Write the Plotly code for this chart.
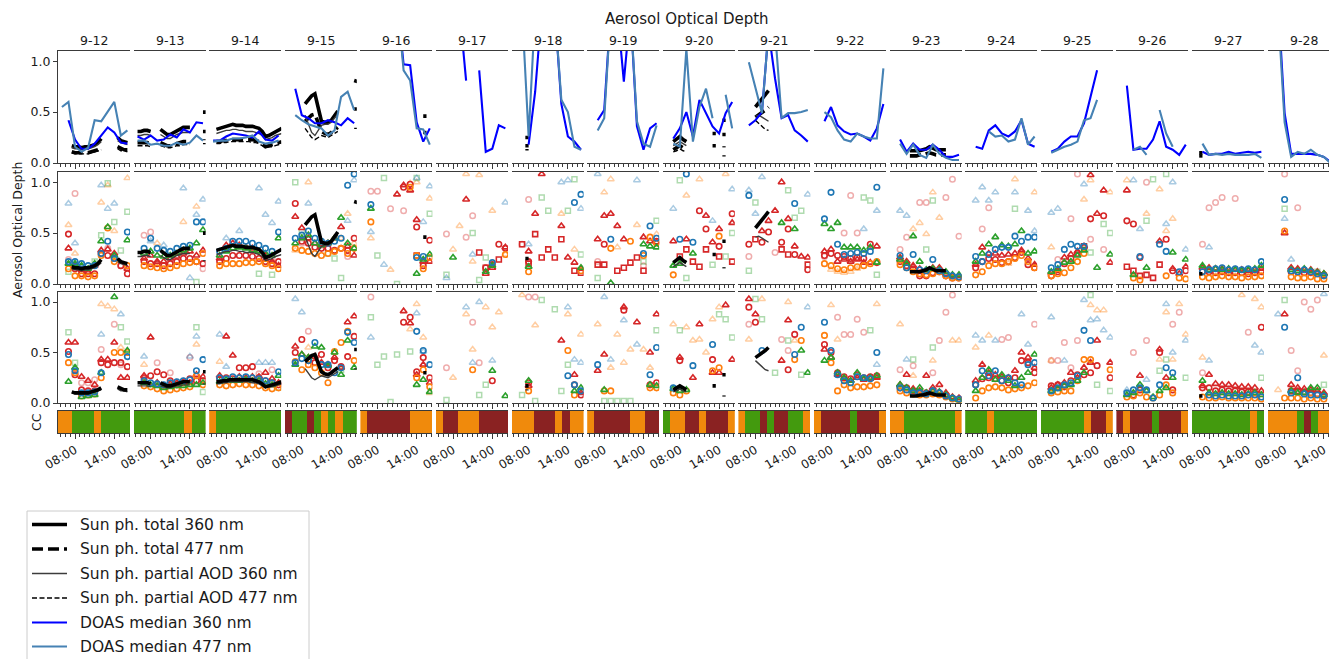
import plotly.graph_objects as go

W, H = 1329, 659
FONT = "DejaVu Sans"
TXT = "#1a1a1a"
SPINE = "#3a3a3a"

DAYS = ["9-12", "9-13", "9-14", "9-15", "9-16", "9-17", "9-18", "9-19", "9-20",
        "9-21", "9-22", "9-23", "9-24", "9-25", "9-26", "9-27", "9-28"]
DOAS_HOURS = [6, 7, 8, 9, 10, 11, 12, 13, 14, 15, 16]
SCAT_HOURS = [7, 8, 9, 10, 11, 12, 13, 14, 15, 16]
TICK_HOURS = [8, 14]
TICK_TEXT = ["08:00", "14:00"]
Y_TICKS = [0.0, 0.5, 1.0]
Y_TICK_TEXT = ["0.0", "0.5", "1.0"]

# ---------------- DOAS medians (row 1), hours 6..16 ----------------
DOAS_360 = [
    "- 0.42 0.23 0.14 0.14 0.19 0.27 0.35 0.30 0.20 0.19",
    "0.26 0.23 0.27 0.22 0.23 0.28 0.25 0.33 0.30 0.40 0.39",
    "0.22 0.22 0.26 0.29 0.28 0.27 0.25 0.31 0.23 0.22 0.27",
    "- 0.73 0.47 0.44 0.39 0.39 0.42 0.40 0.37 0.44 0.39",
    "- - - - - 1.60 0.97 0.96 0.40 0.21 0.34",
    "- - - 1.50 0.81 - 0.91 0.11 0.14 0.37 0.34",
    "- - 0.18 0.70 1.50 1.50 1.50 0.58 0.26 0.21 0.13",
    "- 0.42 0.52 1.50 1.50 0.80 1.50 0.36 0.13 0.34 0.39",
    "- 0.24 0.34 0.50 0.26 0.62 0.49 0.36 0.29 0.49 0.60",
    "- 0.37 0.42 0.50 1.30 0.83 0.44 0.47 0.32 0.27 0.21",
    "- 0.41 0.55 0.37 0.31 0.28 0.29 0.26 0.22 0.34 0.58",
    "- 0.23 0.11 0.19 0.13 0.13 0.18 0.13 0.06 0.06 0.08",
    "- 0.16 0.14 0.32 0.37 0.29 0.26 0.31 0.42 0.19 0.16",
    "- 0.11 0.14 0.21 0.26 0.26 0.39 0.65 0.91 - -",
    "- 0.76 0.13 0.14 0.14 0.23 0.41 0.16 0.13 0.08 0.18",
    "- 0.11 0.08 0.09 0.09 0.11 0.09 0.10 0.11 0.10 0.11",
    "- 1.60 0.49 0.09 0.09 0.09 0.09 0.08 0.06 0.01 -",
]
DOAS_477 = [
    "0.55 0.60 0.16 0.11 0.15 0.42 0.41 0.50 0.60 0.27 0.32",
    "0.22 0.22 0.18 0.19 0.17 0.17 0.20 0.18 0.20 0.27 0.22",
    "0.21 0.22 0.22 0.24 0.24 0.25 0.27 0.21 0.19 0.20 0.22",
    "- 0.47 0.42 0.38 0.36 0.34 0.27 0.32 0.65 0.70 0.52",
    "- - - - - 1.60 0.91 0.81 0.34 0.33 0.18",
    "",
    "- 1.50 0.26 1.50 1.50 1.50 1.50 0.62 0.50 0.16 0.13",
    "- 0.32 0.44 1.50 1.50 1.50 1.50 0.41 0.19 0.16 0.37",
    "- 0.19 0.16 1.12 0.21 0.55 0.73 0.44 - 0.67 0.34",
    "- 0.99 0.73 0.49 1.30 1.30 0.44 0.49 0.49 0.50 0.52",
    "- 0.50 0.45 0.32 0.23 0.21 0.29 0.26 0.24 0.24 0.93",
    "- 0.19 0.09 0.18 0.08 0.05 0.18 0.09 0.05 0.03 0.03",
    "- - - 0.31 0.26 0.27 0.21 0.23 0.44 0.18 0.26",
    "- 0.10 0.13 0.16 0.18 0.21 0.42 0.44 0.62 - -",
    "- - 0.13 0.16 0.08 - 0.52 0.29 0.16 - -",
    "- 0.19 0.08 0.09 0.08 0.09 0.08 0.08 0.08 0.09 0.05",
    "- 1.50 0.40 0.06 0.11 0.09 0.13 0.08 0.06 0.00 -",
]

# ---------------- Sun photometer (hour:value pairs) ----------------
SUN_TOT_360 = [
    "7.5:0.17 8:0.16 8.5:0.16 9:0.15 9.5:0.16 10:0.16 10.5:0.17 11:0.18 11.5:0.20 12:0.24 14.5:0.25 15:0.22 15.5:0.21 16:0.20",
    "6:0.31 6.5:0.31 7:0.32 7.5:0.32 8:0.31 9.5:0.33 10:0.30 10.5:0.28 11:0.28 11.5:0.30 12:0.32 12.5:0.34 13:0.35 13.5:0.35 14:0.35 16:0.50 16.5:0.50",
    "6.5:0.33 7:0.34 7.5:0.35 8:0.36 8.5:0.37 9:0.38 9.5:0.37 10:0.37 10.5:0.37 11:0.36 11.5:0.36 12:0.36 12.5:0.35 13:0.34 13.5:0.31 14:0.26 14.5:0.27 15:0.29 15.5:0.31 16:0.33 16.5:0.34",
    "8.5:0.58 9:0.62 9.5:0.66 10:0.68 10.5:0.55 11:0.41 11.5:0.40 12:0.40 12.5:0.42 13:0.47 13.5:0.51 16:0.81 16.5:0.80",
    "15:0.46 15.5:0.46",
    "",
    "7.5:0.25 8:0.25",
    "",
    "7:0.21 7.5:0.24 8:0.26 8.5:0.23 9:0.21 13:0.29 13.5:0.29 14.5:0.42 15:0.42",
    "8:0.55 8.5:0.59 9:0.63 9.5:0.67 10:0.71",
    "",
    "8.5:0.12 9:0.12 9.5:0.12 10:0.12 10.5:0.13 11:0.14 11.5:0.16 12:0.14 12.5:0.13 13:0.13 13.5:0.13 14:0.13",
    "", "", "",
    "6.5:0.10 7:0.10",
    "",
]
SUN_TOT_477 = [
    "7.5:0.11 8:0.10 8.5:0.10 9:0.10 9.5:0.10 10:0.10 10.5:0.11 11:0.12 11.5:0.13 12:0.15 14.5:0.16 15:0.14 15.5:0.13 16:0.13",
    "6:0.20 6.5:0.20 7:0.20 7.5:0.20 8:0.19 9.5:0.20 10:0.18 10.5:0.17 11:0.17 11.5:0.18 12:0.19 12.5:0.20 13:0.21 13.5:0.21 14:0.21 16:0.31 16.5:0.31",
    "6.5:0.21 7:0.21 7.5:0.22 8:0.22 8.5:0.23 9:0.23 9.5:0.23 10:0.23 10.5:0.23 11:0.23 11.5:0.23 12:0.23 12.5:0.22 13:0.21 13.5:0.19 14:0.16 14.5:0.17 15:0.18 15.5:0.19 16:0.20 16.5:0.21",
    "8.5:0.41 9:0.44 9.5:0.47 10:0.48 10.5:0.40 11:0.31 11.5:0.29 12:0.28 12.5:0.30 13:0.33 13.5:0.35 16:0.53 16.5:0.53",
    "15:0.30 15.5:0.30",
    "",
    "7.5:0.17 8:0.17",
    "",
    "7:0.13 7.5:0.15 8:0.17 8.5:0.15 9:0.13 13:0.17 13.5:0.17 14.5:0.28 15:0.28",
    "8:0.45 8.5:0.47 9:0.50 9.5:0.52 10:0.55",
    "",
    "8.5:0.07 9:0.07 9.5:0.07 10:0.08 10.5:0.08 11:0.09 11.5:0.10 12:0.09 12.5:0.08 13:0.08 13.5:0.08 14:0.08",
    "", "", "",
    "6.5:0.07 7:0.07",
    "",
]
SUN_PAR_360 = [
    "7.5:0.15 8:0.14 8.5:0.14 9:0.13 9.5:0.14 10:0.14 10.5:0.15 11:0.16 11.5:0.18 12:0.21 14.5:0.22 15:0.20 15.5:0.19 16:0.18",
    "6:0.27 6.5:0.27 7:0.28 7.5:0.28 8:0.27 9.5:0.28 10:0.26 10.5:0.24 11:0.24 11.5:0.26 12:0.28 12.5:0.29 13:0.30 13.5:0.30 14:0.30 16:0.23 16.5:0.23",
    "6.5:0.29 7:0.30 7.5:0.31 8:0.32 8.5:0.32 9:0.33 9.5:0.33 10:0.32 10.5:0.32 11:0.31 11.5:0.31 12:0.31 12.5:0.30 13:0.29 13.5:0.27 14:0.23 14.5:0.24 15:0.25 15.5:0.27 16:0.28 16.5:0.29",
    "8.5:0.47 9:0.38 9.5:0.30 10:0.27 10.5:0.32 11:0.37 11.5:0.38 12:0.38 12.5:0.40 13:0.44 13.5:0.48",
    "", "", "", "",
    "7:0.17 7.5:0.19 8:0.21 8.5:0.19 9:0.17 14.5:0.16 15:0.16",
    "8:0.46 8.5:0.47 9:0.45 9.5:0.43 10:0.41",
    "", "", "", "", "", "", "",
]
SUN_PAR_477 = [
    "7.5:0.10 8:0.09 8.5:0.09 9:0.09 9.5:0.09 10:0.09 10.5:0.10 11:0.11 11.5:0.12 12:0.13 14.5:0.14 15:0.12 15.5:0.12 16:0.11",
    "6:0.17 6.5:0.17 7:0.17 7.5:0.17 8:0.16 9.5:0.17 10:0.16 10.5:0.15 11:0.15 11.5:0.16 12:0.17 12.5:0.17 13:0.18 13.5:0.18 14:0.18 16:0.19 16.5:0.19",
    "6.5:0.19 7:0.19 7.5:0.20 8:0.20 8.5:0.21 9:0.21 9.5:0.21 10:0.21 10.5:0.21 11:0.21 11.5:0.21 12:0.20 12.5:0.20 13:0.19 13.5:0.17 14:0.15 14.5:0.16 15:0.16 15.5:0.17 16:0.18 16.5:0.19",
    "8.5:0.34 9:0.29 9.5:0.25 10:0.23 10.5:0.25 11:0.27 11.5:0.26 12:0.25 12.5:0.27 13:0.29 13.5:0.31 16:0.34 16.5:0.34",
    "", "",
    "7.5:0.13 8:0.13",
    "",
    "7:0.11 7.5:0.12 8:0.14 8.5:0.12 9:0.11 14.5:0.07 15:0.07",
    "8:0.42 8.5:0.39 9:0.35 9.5:0.33 10:0.32",
    "", "", "", "", "", "", "",
]

# ---------------- Row 2 scatter (360 nm), hours 7..16 ----------------
R2_RED_TRI = [
    "0.35 0.18 0.14 0.12 0.18 0.33 0.34 0.30 - 0.15",
    "0.25 0.28 0.22 0.22 0.25 0.27 0.30 0.32 0.28 0.33",
    "0.25 0.38 0.40 0.38 0.36 0.35 0.32 0.28 0.22 0.18",
    "0.66 0.55 0.45 0.40 0.38 0.40 0.45 0.56 0.37 0.28",
    "- - - - 0.88 0.97 0.92 0.63 0.22 0.22",
    "- - - 0.83 - - 0.10 0.16 - 0.36",
    "- 0.32 0.69 1.08 - - 0.57 0.26 0.21 0.15",
    "0.44 0.67 0.69 0.57 0.44 - - 0.46 0.42 0.41",
    "0.42 - 0.44 - - 0.67 0.41 0.54 - 0.60",
    "- - 0.52 0.62 0.72 1.00 0.64 0.37 0.27 0.26",
    "0.32 0.34 0.22 0.24 0.22 0.24 0.21 0.21 0.37 -",
    "0.26 0.22 0.18 0.15 0.12 0.16 0.16 0.10 0.08 0.08",
    "0.19 0.36 0.30 0.30 0.28 0.29 0.30 0.33 0.25 0.19",
    "0.11 0.13 0.26 0.29 0.32 0.37 1.07 0.69 0.92 0.21",
    "0.92 - - - - 0.42 - 0.15 0.10 0.17",
    "0.16 0.16 0.15 0.15 0.14 0.14 0.14 0.13 0.14 0.15",
    "- 0.50 0.16 0.15 0.14 0.14 0.12 0.10 - -",
]
R2_RED_CIRC = [
    "0.49 0.15 0.10 0.10 0.10 0.30 0.28 0.25 0.18 0.10",
    "0.22 0.20 0.20 0.18 0.20 0.22 0.25 0.25 0.22 0.20",
    "0.22 0.25 0.28 0.28 0.28 0.27 0.25 0.22 0.20 0.22",
    "0.79 0.42 0.40 0.36 0.35 0.35 0.33 0.35 0.33 0.45",
    "- - - - - 0.95 0.98 0.56 0.18 0.43",
    "- - - - - - 0.16 0.19 0.39 0.35",
    "- 0.22 - - - - - - - -",
    "- 0.39 - - - - - - - 0.42",
    "- - - - 0.72 0.54 - 0.37 - 0.69",
    "0.39 - 0.41 0.51 - 0.41 0.54 0.29 - 0.14",
    "0.28 0.30 0.28 0.27 0.25 0.26 0.25 0.39 0.21 -",
    "0.22 0.18 0.15 0.08 0.08 0.11 0.12 0.08 0.06 0.06",
    "0.16 0.22 0.25 0.24 0.21 0.22 0.26 0.31 0.19 0.16",
    "0.08 0.12 0.20 0.25 0.30 0.36 0.64 - 0.67 -",
    "0.62 0.59 0.26 - - - 0.44 0.13 - 0.13",
    "0.12 0.12 0.11 0.12 0.11 0.11 0.11 0.10 0.11 0.12",
    "- - 0.12 0.12 0.11 0.11 0.10 0.09 - -",
]
R2_RED_SQ = [
    "", "", "", "",
    "- - - - - - - 0.28 - -",
    "- - - - - 0.31 0.16 - 0.24 -",
    "0.39 0.20 0.49 0.26 0.34 0.26 0.44 - 0.13 0.11",
    "0.19 0.19 - 0.13 0.16 0.21 0.26 0.13 - -",
    "- 0.27 0.34 0.22 0.17 0.34 - 0.27 - 0.22",
    "- 0.44 - - - 0.34 0.29 - - 0.19",
    "", "", "",
    "- - - - - 0.37 - - - -",
    "0.17 0.13 0.08 0.09 0.06 0.19 - - - -",
    "", "",
]
R2_ORANGE = [
    "0.15 0.08 0.08 0.07 0.08 0.28 0.55 0.22 - 0.18",
    "0.18 0.17 0.16 0.15 0.16 0.18 0.20 0.21 0.22 0.30",
    "0.18 0.20 0.20 0.20 0.21 0.21 0.22 0.20 0.18 0.15",
    "0.35 0.33 0.32 0.30 0.28 0.30 0.32 0.35 0.30 0.35",
    "0.61 - - - - - 0.95 0.28 0.15 0.26",
    "- - - - - - - - - 0.29",
    "- 0.12 - - - - - - - 0.13",
    "- - 0.35 - - 0.42 - 0.28 0.46 0.40",
    "0.09 - - - - - - 0.47 - -",
    "",
    "0.20 0.18 0.15 0.14 0.16 0.17 0.18 0.20 0.22 -",
    "0.19 0.16 0.12 0.10 0.09 0.10 0.12 0.08 0.06 0.06",
    "0.09 0.12 0.18 0.20 0.20 0.22 0.25 0.28 0.22 0.16",
    "0.08 0.10 0.11 0.16 0.22 0.30 - - - -",
    "- 0.06 0.04 - - - 0.08 - 0.06 0.05",
    "0.07 0.06 0.07 0.08 0.07 0.07 0.06 0.07 0.07 0.08",
    "- 0.52 0.07 0.06 0.06 0.07 0.05 0.05 - -",
]
R2_GREEN = [
    "0.20 0.20 0.18 0.15 0.20 0.42 0.56 0.28 - 0.43",
    "0.30 0.32 0.28 0.27 0.28 0.30 0.33 0.35 0.40 0.53",
    "0.28 0.32 0.35 0.36 0.35 0.33 0.32 0.30 0.28 0.45",
    "0.40 0.45 0.48 0.40 0.38 0.40 0.45 0.65 0.40 0.35",
    "0.74 - - - - - - 0.10 0.24 0.29",
    "- 0.26 - - - - 0.12 0.18 - -",
    "- 0.17 - - - - - - - 0.16",
    "- - 0.01 - - - - 0.39 0.37 0.36",
    "0.18 0.20 - 0.30 - - - - - -",
    "- - - - - 0.60 - 0.54 - -",
    "0.59 0.54 0.60 0.36 0.36 0.36 0.33 0.36 0.21 -",
    "0.24 0.20 0.47 0.22 0.14 0.15 0.14 0.12 0.09 0.09",
    "0.22 0.30 0.39 0.46 0.38 0.37 0.39 0.52 0.30 0.32",
    "0.12 0.15 0.21 0.22 0.28 0.33 - 0.16 - 0.29",
    "- 0.09 - 0.16 - - - 0.31 - 0.24",
    "0.18 0.14 0.15 0.14 0.15 0.14 0.13 0.14 0.15 0.18",
    "- - 0.14 0.13 0.15 0.13 0.11 0.10 - -",
]
R2_BLUE = [
    "0.22 0.22 0.20 0.18 0.18 0.30 0.42 0.25 - 0.51",
    "0.35 0.45 0.35 0.33 0.32 0.35 0.37 0.38 0.61 0.61",
    "0.32 0.35 0.42 0.42 0.42 0.40 0.38 0.35 0.32 0.51",
    "0.45 0.48 0.52 0.45 0.42 0.40 0.42 0.45 0.97 1.08",
    "0.78 - - - - - - 0.26 0.27 -",
    "- - - - - - - 0.21 - -",
    "- - - - - - - - 0.80 0.88",
    "- - 0.44 - - - - 0.30 0.57 0.45",
    "- 0.44 1.08 0.41 - - - - - -",
    "0.87 - - - - - - 0.79 - -",
    "0.64 0.90 0.39 0.29 0.30 0.31 0.30 0.32 0.95 -",
    "0.28 0.16 0.29 0.14 0.13 0.24 0.13 0.10 0.08 0.07",
    "0.27 0.22 0.29 0.34 0.36 0.36 0.47 0.42 0.46 0.46",
    "0.16 0.19 0.34 0.39 0.37 0.37 - - - -",
    "- - 0.27 - - 0.39 0.32 - 0.12 -",
    "0.12 0.14 0.15 0.16 0.14 0.15 0.14 0.15 0.14 0.22",
    "- 0.83 0.13 0.12 0.14 0.12 0.10 0.08 - -",
]
R2_PINK = [
    "0.24 0.89 - - - - 0.35 - 0.18 -",
    "0.48 0.51 - - - - - - - 0.15",
    "- - - - - - - - 0.25 -",
    "- 0.40 - - 0.38 - - - 0.27 -",
    "0.91 0.91 - 0.74 - 0.72 - - - -",
    "0.49 - - 0.46 0.67 - - - - -",
    "0.39 0.83 - - - - - - - -",
    "0.22 - - - - - - 0.18 - -",
    "",
    "0.27 - - - 0.31 - - - - -",
    "0.27 - - 0.50 0.87 0.50 - - - -",
    "0.34 0.46 - 0.80 0.80 - - 0.85 1.03 0.47",
    "- 0.54 0.75 - - - - - - -",
    "- 0.24 - 0.64 1.08 - 0.44 - 0.34 -",
    "- - - 1.00 - - - - - -",
    "0.39 0.75 0.80 0.85 - 0.84 - - - -",
    "- 1.08 - 0.75 - - - - - -",
]
R2_PEACH = [
    "0.58 0.30 - - - 0.80 0.97 0.52 - 1.04",
    "- - 0.40 - - - 0.61 - 0.76 -",
    "",
    "0.33 - 1.00 - - - - 0.45 0.69 0.40",
    "0.45 - - 0.14 - - 0.99 1.00 - 0.84",
    "- 0.34 0.57 1.08 0.22 1.07 - 0.72 - 0.29",
    "- - - - - - 0.69 - 0.34 -",
    "- 0.90 1.03 0.36 - - 0.58 - - 0.49",
    "- - 0.87 - 1.03 - - - 1.08 -",
    "",
    "- 0.14 0.12 0.11 0.12 0.15 - - - -",
    "- - 0.54 0.60 0.49 0.90 0.65 - - -",
    "- - - - - 0.20 1.03 - - 0.90",
    "0.36 - - - - 0.83 1.02 - - 0.90",
    "1.02 - - 0.69 - 0.93 0.52 0.64 - -",
    "",
    "",
]
R2_LGREEN = [
    "0.12 - - - 0.22 0.48 0.99 0.61 0.33 0.71",
    "- - - - - - - - 0.02 -",
    "- - - - - - 0.10 - 0.09 -",
    "1.00 0.51 - - - 0.30 0.25 0.06 - -",
    "- 0.28 1.04 - 0.00 - - 1.04 - 0.69",
    "0.09 - - - 0.50 0.04 0.26 - - -",
    "- - - 0.85 0.72 - - 0.72 1.03 0.29",
    "0.06 - - - - - - 0.22 - 0.62",
    "- 1.02 0.06 - - - 0.19 - 0.27 0.50",
    "0.13 0.80 - - - - 0.92 0.65 0.72 -",
    "- - - - - - 0.85 0.82 0.09 -",
    "- - - - 0.34 0.82 - - - -",
    "- - - - - - 0.74 - - -",
    "- - - - - - 0.31 - 0.59 0.50",
    "- - - 0.62 1.03 - 1.08 - - -",
    "",
    "- 0.74 - - - - 0.12 - - -",
]
R2_LBLUE = [
    "0.79 0.40 - - - 0.97 0.74 0.79 - -",
    "- 0.42 - 0.38 - - 0.94 0.06 0.68 0.83",
    "- 0.45 - 0.52 - - 0.94 0.68 0.60 0.81",
    "- - 0.79 - - - - - 0.62 1.02",
    "0.51 - 0.19 - - - - 1.04 0.61 0.96",
    "0.06 - - - 0.29 - - - - 0.80",
    "- 0.39 - - - - 1.00 1.02 - 0.74",
    "1.08 - - - - - 1.02 - - -",
    "0.74 - - - - - 0.62 - - 0.93",
    "0.92 0.69 1.05 - - - - - - 0.88",
    "- - - - - - 0.54 - 0.72 -",
    "0.72 0.67 - - - - - - - -",
    "0.82 0.95 0.82 0.90 - - 0.90 - 0.72 0.52",
    "0.70 0.74 - - - 0.98 - - - -",
    "- 1.02 0.54 - - - 0.59 1.00 - 0.34",
    "- 0.36 - - - - - - - -",
    "- 0.64 0.24 - - - - - - -",
]

# ---------------- Row 3 scatter (477 nm), hours 7..16 ----------------
R3_RED_TRI = [
    "0.60 0.60 0.26 0.22 0.18 0.43 0.43 0.60 0.25 0.25",
    "0.27 0.65 0.20 0.17 0.19 0.20 0.21 0.20 0.28 0.26",
    "0.27 0.66 0.47 0.26 0.25 0.26 0.26 0.30 0.24 0.20",
    "0.56 0.48 0.45 0.46 0.40 0.38 0.45 0.35 0.80 0.86",
    "- - - - - 0.91 0.79 0.28 0.38 0.20",
    "",
    "- 0.17 - - - - 0.62 - 0.28 0.10",
    "0.32 0.48 - - 0.95 - 0.80 - 0.50 0.88",
    "- 0.45 - 0.25 0.78 - 0.30 0.30 0.97 0.43",
    "1.03 0.88 - - - 0.42 0.82 - - -",
    "0.53 0.45 0.28 0.24 0.22 0.25 0.23 0.24 0.25 -",
    "0.18 0.28 0.14 0.12 0.27 0.15 0.18 0.10 0.06 0.05",
    "0.22 0.38 0.30 0.28 0.26 0.25 0.32 0.50 0.45 0.35",
    "0.15 0.18 0.20 0.30 0.25 0.35 0.40 0.62 - 0.40",
    "- - 0.27 - - 0.53 0.25 - - -",
    "0.17 0.28 0.19 0.18 0.18 0.17 0.16 0.16 0.15 0.12",
    "- 0.88 0.18 0.15 0.14 0.13 0.12 0.10 - -",
]
R3_RED_CIRC = [
    "0.51 0.28 0.13 0.12 0.12 0.40 0.38 0.40 0.40 0.36",
    "0.25 0.27 0.31 0.28 0.22 0.18 0.20 0.24 0.22 0.22",
    "0.24 0.25 0.24 0.35 0.35 0.36 0.25 0.22 0.20 0.18",
    "0.50 0.63 0.42 0.40 0.48 0.35 0.42 0.36 0.46 0.66",
    "- - - - - 0.80 0.85 0.31 0.45 0.25",
    "- - - - - - - 0.22 - -",
    "- 0.20 - - - - - - 0.18 0.08",
    "- - - - 0.92 - - - 0.18 0.20",
    "- 0.42 - - - - 0.43 - - -",
    "0.95 0.80 - - - - 0.33 0.68 - -",
    "0.58 0.50 0.30 0.26 0.24 0.28 0.25 0.26 0.27 -",
    "0.15 0.15 0.12 0.10 0.10 0.12 0.10 0.08 0.05 0.04",
    "0.18 0.24 0.25 0.24 0.22 0.20 0.25 0.42 0.40 0.30",
    "0.17 0.18 0.16 0.22 0.28 0.28 0.30 0.37 - 0.25",
    "- 0.08 0.13 - - 0.50 - 0.13 - -",
    "0.15 0.15 0.12 0.13 0.12 0.12 0.11 0.11 0.10 0.75",
    "- - 0.12 0.12 0.11 0.10 0.09 0.08 - -",
]
R3_ORANGE = [
    "0.40 0.30 0.07 0.08 0.09 0.25 - 0.50 0.50 0.50",
    "0.17 0.16 0.14 0.12 0.13 0.14 0.15 0.16 0.27 0.18",
    "0.18 0.17 0.18 0.19 0.18 0.18 0.17 0.15 0.14 0.15",
    "0.41 0.33 0.38 0.35 0.30 0.20 0.51 0.60 0.71 0.42",
    "- - - - - - - 0.25 0.33 0.16",
    "- - - - 0.33 - - - - -",
    "- 0.12 - - - - - 0.52 0.08 -",
    "- 0.12 0.12 - - - - - 0.15 0.15",
    "0.10 0.08 0.12 - - - 0.32 0.35 - -",
    "- - - - - - - 0.43 0.62 -",
    "0.67 0.40 0.12 0.18 0.15 0.16 0.16 0.17 0.18 -",
    "0.12 0.10 0.09 0.08 0.08 0.09 0.08 0.06 0.04 0.03",
    "0.05 0.12 0.15 0.16 0.15 0.13 0.14 0.15 0.17 0.20",
    "0.10 0.11 0.12 0.12 0.22 0.43 0.43 - - 0.33",
    "0.06 0.07 0.10 0.06 0.05 0.08 0.18 0.10 - -",
    "0.06 0.05 0.05 0.06 0.05 0.05 0.05 0.05 0.05 0.04",
    "- 0.05 0.05 0.05 0.04 0.05 0.04 0.04 - -",
]
R3_GREEN = [
    "0.21 0.35 0.06 0.07 0.08 0.30 - 1.05 - 0.52",
    "0.20 0.18 0.17 0.15 0.16 0.17 0.17 0.18 0.18 0.20",
    "0.21 0.23 0.22 0.22 0.23 0.22 0.22 0.19 0.18 0.27",
    "0.38 0.48 0.45 0.56 0.55 0.37 0.50 0.28 0.62 0.35",
    "- - - - - - - 0.18 0.23 0.11",
    "- - - - - - - 0.32 - 0.07",
    "- 0.22 - - - - - - 0.12 0.15",
    "- 0.13 - - - - - - 0.18 0.17",
    "0.14 0.12 0.13 - - - - - - -",
    "- - - - - - - - 0.52 0.30",
    "0.42 0.45 0.30 0.25 0.22 0.30 0.24 0.25 0.27 -",
    "0.18 0.15 0.12 0.15 0.10 0.12 0.11 0.08 0.05 0.03",
    "0.12 0.25 0.33 0.23 0.28 0.22 0.17 0.25 0.30 0.48",
    "0.12 0.14 0.17 0.18 0.22 0.30 - - - -",
    "0.08 0.10 0.18 0.12 0.06 0.12 0.15 0.25 - -",
    "0.22 0.10 0.09 0.10 0.09 0.09 0.08 0.09 0.10 0.08",
    "- - 0.12 0.10 0.10 0.15 0.15 0.08 - -",
]
R3_BLUE = [
    "0.48 0.32 0.10 0.10 0.11 0.30 - - - 0.46",
    "0.22 0.20 0.19 0.18 0.20 0.21 0.22 0.23 0.32 0.43",
    "0.25 0.24 0.26 0.25 0.26 0.25 0.24 0.22 0.20 0.31",
    "0.40 0.44 0.42 0.60 0.38 0.38 0.30 0.35 0.70 0.60",
    "- - - - - - - 0.71 0.52 0.38",
    "",
    "- - - - - - - 0.27 0.18 0.12",
    "0.38 - - - - - - - 0.28 0.55",
    "0.15 - - 0.37 - - 0.58 - - -",
    "- - 0.52 - - - - 0.48 0.75 -",
    "0.80 0.52 0.28 0.22 0.20 0.26 0.25 0.24 0.50 -",
    "0.15 0.13 0.10 0.10 0.09 0.12 0.10 0.07 0.05 0.04",
    "0.18 0.32 0.27 0.32 0.22 0.25 0.20 0.18 0.38 0.40",
    "0.12 0.15 0.18 0.20 0.27 0.72 0.62 - - -",
    "0.10 0.13 0.15 0.13 0.05 0.18 0.35 0.30 - -",
    "- 0.08 0.07 0.08 0.07 0.07 0.07 0.08 0.08 0.06",
    "- 0.75 0.10 0.25 0.09 0.08 0.08 0.07 - -",
]
R3_PINK = [
    "- - 0.20 0.20 0.23 0.53 - 0.78 0.38 -",
    "- - 0.40 - 0.30 - - 0.45 - -",
    "- - - - - - 0.29 - 0.33 -",
    "- - 0.71 - - - - - - -",
    "1.05 - - - - - - - - -",
    "0.35 - - - 0.80 0.40 - - - -",
    "- 1.05 1.05 - - - - - - -",
    "",
    "",
    "0.78 - - - - 0.63 0.52 - - -",
    "- - 0.85 0.68 0.68 0.83 0.70 - - -",
    "0.33 - 0.37 - - 0.30 0.62 0.90 1.07 -",
    "- - - - 0.63 0.65 - - - 0.78",
    "0.42 0.42 0.60 0.35 0.62 - - - - -",
    "- 0.50 - 0.62 - - - 0.78 0.90 -",
    "0.30 - - - - - - 0.70 - -",
    "- - 0.52 0.32 1.00 0.93 1.02 - - -",
]
R3_PEACH = [
    "- - - - - 0.98 0.96 0.93 0.55 -",
    "0.38 - - - - - - - 0.58 -",
    "0.41 - - - - - - - - -",
    "- - 0.55 - - - - - - -",
    "- - - - - - 0.73 0.98 0.65 0.10",
    "- 0.25 - 0.88 0.53 - 0.95 0.75 0.90 -",
    "1.07 - 0.77 - - - - 0.88 - 0.68",
    "0.78 - 0.35 0.68 0.40 0.53 - 0.53 0.35 -",
    "0.78 - 0.75 0.62 0.63 0.50 0.83 0.95 - -",
    "0.63 - 1.03 - - - 1.00 0.62 - -",
    "- 0.97 0.63 - - - - - 0.98 -",
    "0.78 - 0.27 - - 0.42 - - 0.62 0.62",
    "0.55 - 0.67 - - - - - - -",
    "0.42 - - - - - 0.97 0.92 0.92 -",
    "- 0.10 - - - 0.43 0.90 0.43 0.98 0.68",
    "0.45 - - - - - 1.07 - 1.03 0.95",
    "0.13 - - - - - - 0.47 - -",
]
R3_LGREEN = [
    "0.70 0.40 - - - - - - 0.75 0.61",
    "- - - - - - - - 0.75 0.11",
    "- - - - - - - - - 0.15",
    "- - - - - - - 0.33 - -",
    "0.85 0.38 0.46 0.01 0.48 - 0.51 - - -",
    "0.03 - - - - 0.08 0.18 - - -",
    "0.08 - 0.02 1.02 - 0.93 0.12 0.38 - -",
    "- 0.02 0.02 0.02 0.02 0.02 - - - 0.72",
    "- 0.72 - - - - - 0.88 0.83 0.65",
    "- 1.03 0.83 - 0.30 - 0.62 - 0.28 -",
    "- - - - - - - 0.72 - -",
    "- - 0.43 - - 0.55 - - - -",
    "",
    "- - - - - - 1.07 0.18 - 0.12",
    "- - - - - 0.32 0.43 - - 0.25",
    "- - - - - - - - - 0.25",
    "- 1.02 - - - - - 0.18 - -",
]
R3_LBLUE = [
    "- - - - - 0.68 - - 0.88 -",
    "0.46 - - - - - - 0.46 0.66 -",
    "0.68 0.36 - - - - 0.40 0.40 0.40 -",
    "1.03 0.90 - - - - - - - -",
    "0.65 - - - - - - 0.89 0.51 -",
    "- - - 0.95 0.40 1.00 - 0.42 - -",
    "- - - - - - - 0.95 0.43 0.40",
    "- 1.05 0.43 - 0.82 - 0.58 - - -",
    "",
    "- - - - - - - - - 0.95",
    "- - - - - - - - 0.38 -",
    "- 0.43 - - - - - - - -",
    "0.67 0.62 - 0.62 - - - 0.88 0.58 -",
    "0.85 - 0.42 - - 1.02 0.82 0.83 0.72 0.65",
    "0.13 - - 0.23 - - 0.98 0.50 - 0.62",
    "- 0.42 - - - - - - 0.57 0.50",
    "0.88 - - - - - - 1.08 - -",
]

# ---------------- Cloud classification (10 bins per day) ----------------
CC_CODES = ["OOGGGOGGGG", "GGGGGGGOGG", "OGGGGGGGGG", "RGGRGOGOGG", "ORRRRRROOO",
            "ORROOORRRR", "OOORRROROO", "ORRRRROORR", "GOORRORRRO", "OGGRGRRGGO",
            "ORRRRGRRRO", "OOGGGGGGGO", "GGGOGGGGGG", "GGGGGGORRO", "RORRRGRRRO",
            "GGGGGGGGOG", "OOOOGRGOOO"]
CC_COLORS = {"O": "#f08a0c", "G": "#439a0e", "R": "#8a2222"}

LEGEND_LABELS = ["Sun ph. total 360 nm", "Sun ph. total 477 nm",
                 "Sun ph. partial AOD 360 nm", "Sun ph. partial AOD 477 nm",
                 "DOAS median 360 nm", "DOAS median 477 nm"]


# ---------------- helpers ----------------
def parse_vals(s, n):
    out = [None if t == "-" else float(t) for t in s.split()]
    return (out + [None] * n)[:n]


def parse_pairs(s):
    xs, ys, prev = [], [], None
    for tok in s.split():
        h, v = tok.split(":")
        h, v = float(h), float(v)
        if prev is not None and h - prev > 0.75:
            xs.append(None)
            ys.append(None)
        xs.append(h)
        ys.append(v)
        prev = h
    return xs, ys


def pad17(lst):
    return (list(lst) + [""] * 17)[:17]


# ---------------- geometry ----------------
X_LEFT, COL_PITCH, COL_W = 58.0, 75.6, 72.0
ROWS_PX = [(51, 163), (172, 284), (292, 403), (411, 433)]
X0, X1 = 5.4, 16.4
MINOR = [5.75 + 0.75 * k for k in range(15)]
NCOL = len(DAYS)

BLACK_THICK = 3.6
THIN = 1.4

STRONG = [("#d62728", "triangle-up-open", 6), ("#d62728", "circle-open", 5.5),
          ("#d62728", "square-open", 5), ("#ff7f0e", "circle-open", 5.5),
          ("#2ca02c", "triangle-up-open", 6), ("#1f77b4", "circle-open", 5.5)]
FADED = [("rgba(214,39,40,0.38)", "circle-open", 5.5), ("rgba(255,127,14,0.38)", "triangle-up-open", 6),
         ("rgba(44,160,44,0.38)", "square-open", 5), ("rgba(31,119,180,0.38)", "triangle-up-open", 6)]

R2_STRONG = [R2_RED_TRI, R2_RED_CIRC, R2_RED_SQ, R2_ORANGE, R2_GREEN, R2_BLUE]
R2_FADED = [R2_PINK, R2_PEACH, R2_LGREEN, R2_LBLUE]
R3_STRONG = [R3_RED_TRI, R3_RED_CIRC, None, R3_ORANGE, R3_GREEN, R3_BLUE]
R3_FADED = [R3_PINK, R3_PEACH, R3_LGREEN, R3_LBLUE]

fig = go.Figure()
layout = {}


def names(r, c):
    idx = r * NCOL + c + 1
    s = "" if idx == 1 else str(idx)
    return "x" + s, "y" + s, "xaxis" + s, "yaxis" + s


for c in range(NCOL):
    x0px = X_LEFT + c * COL_PITCH
    x1px = min(x0px + COL_W, W)
    xmax = X0 + (x1px - x0px) / COL_W * (X1 - X0)
    for r in range(4):
        xn, yn, xa, ya = names(r, c)
        y0px, y1px = ROWS_PX[r]
        layout[xa] = dict(
            domain=[x0px / W, x1px / W], anchor=yn, range=[X0, xmax], automargin=False,
            showline=True, linecolor=SPINE, linewidth=1, mirror=True,
            ticks="outside", ticklen=4.5, tickwidth=1, tickcolor=SPINE,
            tickmode="array", tickvals=TICK_HOURS, ticktext=TICK_TEXT,
            showticklabels=(r == 3), tickangle=-30,
            tickfont=dict(family=FONT, size=12, color=TXT),
            showgrid=False, zeroline=False, fixedrange=True,
            minor=dict(tickmode="array", tickvals=MINOR, ticks="outside", ticklen=2.5,
                       tickcolor=SPINE, tickwidth=1, showgrid=False),
        )
        layout[ya] = dict(
            domain=[1 - y1px / H, 1 - y0px / H], anchor=xn, automargin=False,
            range=[0, 1.1] if r < 3 else [0, 1],
            showline=(c == 0), linecolor=SPINE, linewidth=1, mirror=False,
            ticks="outside" if (c == 0 and r < 3) else "", ticklen=4, tickcolor=SPINE,
            tickmode="array", tickvals=Y_TICKS, ticktext=Y_TICK_TEXT,
            showticklabels=(c == 0 and r < 3),
            tickfont=dict(family=FONT, size=12.5, color=TXT),
            showgrid=False, zeroline=False, fixedrange=True,
        )

    # ---- row 1: sun photometer + DOAS
    xn, yn, _, _ = names(0, c)
    for series, width, dash, color in [
        (SUN_TOT_360, BLACK_THICK, "solid", "black"),
        (SUN_TOT_477, BLACK_THICK, "11px,5px", "black"),
        (SUN_PAR_360, THIN, "solid", "#3c3c3c"),
        (SUN_PAR_477, THIN, "5px,2.5px", "black"),
    ]:
        xs, ys = parse_pairs(pad17(series)[c])
        if xs:
            fig.add_trace(go.Scatter(x=xs, y=ys, mode="lines", xaxis=xn, yaxis=yn,
                                     line=dict(color=color, width=width, dash=dash),
                                     showlegend=False, hoverinfo="skip"))
    for series, color in [(DOAS_360, "#0000ff"), (DOAS_477, "#4682b4")]:
        vals = parse_vals(pad17(series)[c], len(DOAS_HOURS))
        if any(v is not None for v in vals):
            fig.add_trace(go.Scatter(x=DOAS_HOURS, y=vals, mode="lines", xaxis=xn, yaxis=yn,
                                     line=dict(color=color, width=2.1),
                                     showlegend=False, hoverinfo="skip"))

    # ---- rows 2 and 3: scatter + sun photometer
    for r, strong, faded, tot, par in [(1, R2_STRONG, R2_FADED, SUN_TOT_360, SUN_PAR_360),
                                       (2, R3_STRONG, R3_FADED, SUN_TOT_477, SUN_PAR_477)]:
        xn, yn, _, _ = names(r, c)
        for series, (col, sym, size) in zip(faded, FADED):
            vals = parse_vals(pad17(series)[c], len(SCAT_HOURS))
            if any(v is not None for v in vals):
                fig.add_trace(go.Scatter(x=SCAT_HOURS, y=vals, mode="markers", xaxis=xn, yaxis=yn,
                                         marker=dict(symbol=sym, size=size, color=col,
                                                     line=dict(width=1.5, color=col)),
                                         showlegend=False, hoverinfo="skip"))
        for series, (col, sym, size) in zip(strong, STRONG):
            if series is None:
                continue
            vals = parse_vals(pad17(series)[c], len(SCAT_HOURS))
            if any(v is not None for v in vals):
                fig.add_trace(go.Scatter(x=SCAT_HOURS, y=vals, mode="markers", xaxis=xn, yaxis=yn,
                                         marker=dict(symbol=sym, size=size, color=col,
                                                     line=dict(width=1.6, color=col)),
                                         showlegend=False, hoverinfo="skip"))
        for series, width, color in [(par, THIN, "#3c3c3c"), (tot, BLACK_THICK, "black")]:
            xs, ys = parse_pairs(pad17(series)[c])
            if xs:
                fig.add_trace(go.Scatter(x=xs, y=ys, mode="lines", xaxis=xn, yaxis=yn,
                                         line=dict(color=color, width=width),
                                         showlegend=False, hoverinfo="skip"))

    # ---- row 4: cloud classification
    xn, yn, _, _ = names(3, c)
    codes = CC_CODES[c]
    nb = len(codes)
    bw = (X1 - X0) / nb
    centers = [X0 + bw * (k + 0.5) for k in range(nb)]
    fig.add_trace(go.Bar(x=centers, y=[1] * nb, width=[bw] * nb, xaxis=xn, yaxis=yn,
                         marker=dict(color=[CC_COLORS[ch] for ch in codes], line=dict(width=0)),
                         showlegend=False, hoverinfo="skip"))

# ---------------- annotations ----------------
ann = []


def px_ann(text, xpx, ypx, size, angle=0, xanchor="center", yanchor="middle"):
    ann.append(dict(text=text, x=xpx / W, y=1 - ypx / H, xref="paper", yref="paper",
                    showarrow=False, textangle=angle, xanchor=xanchor, yanchor=yanchor,
                    font=dict(family=FONT, size=size, color=TXT)))


px_ann("Aerosol Optical Depth", 687, 19, 15)
for c, d in enumerate(DAYS):
    px_ann(d, X_LEFT + c * COL_PITCH + COL_W / 2, 40, 12.5)
px_ann("Aerosol Optical Depth", 17, 230, 12.5, angle=-90)
px_ann("CC", 37, 422, 12.5, angle=-90)

# ---------------- manual legend ----------------
shapes = [dict(type="rect", xref="paper", yref="paper",
               x0=27 / W, x1=309 / W, y0=1 - 700 / H, y1=1 - 511 / H,
               line=dict(color="#cccccc", width=1), fillcolor="white", layer="above")]
legend_styles = [("black", 3.6, "solid"), ("black", 3.6, "11px,5px"), ("#3c3c3c", 1.5, "solid"),
                 ("black", 1.5, "5px,2.5px"), ("#0000ff", 2.2, "solid"), ("#4682b4", 2.2, "solid")]
leg_y = [524.5, 549, 573.5, 598, 622.5, 646.5]
for (col, w, dash), yy, lab in zip(legend_styles, leg_y, LEGEND_LABELS):
    shapes.append(dict(type="line", xref="paper", yref="paper",
                       x0=32 / W, x1=67 / W, y0=1 - yy / H, y1=1 - yy / H,
                       line=dict(color=col, width=w, dash=dash), layer="above"))
    px_ann(lab, 78, yy, 15.5, xanchor="left")

layout.update(dict(
    width=W, height=H, margin=dict(l=0, r=0, t=0, b=0, autoexpand=False),
    paper_bgcolor="white", plot_bgcolor="white",
    showlegend=False, barmode="overlay", bargap=0,
    annotations=ann, shapes=shapes,
    font=dict(family=FONT, color=TXT),
))
fig.update_layout(**layout)
fig.write_html("out.html", config={"displayModeBar": False},
               post_script="document.body.style.margin='0px';document.body.style.overflow='hidden';")
